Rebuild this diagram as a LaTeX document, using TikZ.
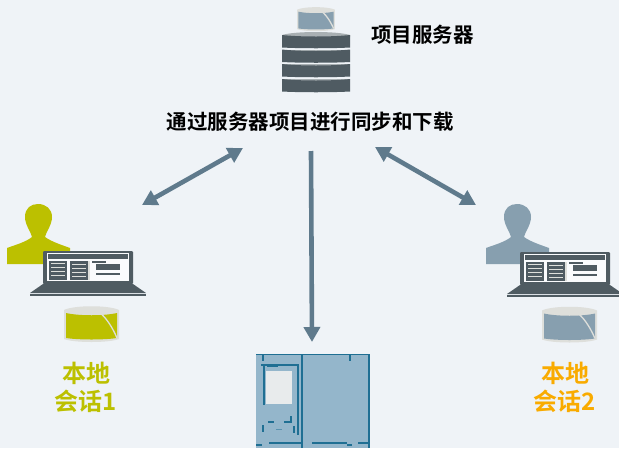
\documentclass[tikz,border=0pt]{standalone}
\usepackage{fontspec}
\setmainfont{Noto Sans CJK SC}[BoldFont={* Bold}]
\usetikzlibrary{arrows.meta}
\definecolor{bgc}{HTML}{EFF3F7}
\definecolor{arrowc}{HTML}{5F7A8C}
\definecolor{darkc}{HTML}{4F5B62}
\definecolor{greyc}{HTML}{A9B0B3}
\definecolor{rimc}{HTML}{DEDFDB}
\definecolor{steelc}{HTML}{879FAF}
\definecolor{limec}{HTML}{BCC000}
\definecolor{orangec}{HTML}{F9AB00}
\definecolor{plcc}{HTML}{94B6CB}
\definecolor{plcl}{HTML}{1F6F93}
\tikzset{
  x=1pt,y=-1pt,
  link/.style={draw=arrowc,line width=4.6pt,-{Triangle[length=15pt,width=16pt]}},
  biglink/.style={draw=arrowc,line width=4.6pt,{Triangle[length=15pt,width=16pt]}-{Triangle[length=15pt,width=16pt]}},
  head/.style={font=\bfseries\fontsize{20.5}{24}\selectfont,inner sep=0pt,text=black},
  sess/.style={font=\bfseries\fontsize{24}{29}\selectfont,inner sep=0pt,align=center},
  plcline/.style={draw=plcl,line width=1.8pt},
}
\newcommand{\mydb}[1]{% drawn in a 55x36 box
  \fill[rimc] (0,4) -- (0,33) .. controls (10,37) and (45,37) .. (55,33) -- (55,4) .. controls (45,-1) and (10,-1) .. (0,4) -- cycle;
  \fill[#1] (2,7) .. controls (15,10) and (40,10) .. (53,7) -- (53,32) .. controls (40,34) and (15,34) .. (2,32) -- cycle;
  \draw[rimc,line width=1.3pt] (28,2) .. controls (38,6) and (46,16) .. (53,32);
}
\newcommand{\myperson}[1]{%
  \fill[#1] (7,264) -- (7,248) .. controls (15,245) and (26,242) .. (32,237)
    .. controls (31,232) and (25,225) .. (25,217) .. controls (25,208) and (31,204) .. (38,204)
    .. controls (46,204) and (52,209) .. (52,217) .. controls (52,225) and (46,232) .. (45,237)
    .. controls (52,242) and (62,245) .. (70,248) -- (70,264) -- cycle;
}
\newcommand{\mylaptop}{%
  \fill[darkc,rounded corners=1pt] (43,251) rectangle (133,284);
  \fill[bgc!30!white] (47,253) rectangle (129,281);
  \fill[darkc] (48,254) rectangle (128,259);
  \fill[darkc] (49,261) rectangle (67,280);
  \fill[darkc] (70,261) rectangle (88,280);
  \fill[rimc] (88,261) rectangle (90,280);
  \foreach \yy in {263,267,271,275}{\fill[rimc] (51,\yy) rectangle (65,\yy+1.4);\fill[rimc] (72,\yy+0.5) rectangle (86,\yy+1.9);}
  \fill[darkc] (92,261) rectangle (106,263);
  \fill[darkc] (96,264) rectangle (120,270);
  \fill[darkc] (96,273) rectangle (120,275);
  \fill[darkc] (43,284) -- (133,284) -- (146,293) -- (30,293) -- cycle;
  \fill[darkc] (30,294) rectangle (146,296);
}
\begin{document}
\begin{tikzpicture}
\useasboundingbox (0,0) rectangle (619,448);
\fill[bgc] (0,0) rectangle (619,448);
% server
\begin{scope}[shift={(297,7)},yscale=0.67,xscale=0.69]\mydb{steelc}\end{scope}
\fill[greyc] (282,35) .. controls (295,31) and (337,31) .. (350,35) -- (350,37) -- (282,37) -- cycle;
\foreach \yy in {35,49.5,64,79}{
  \fill[greyc] (282,\yy) rectangle (350,\yy+3);
  \fill[darkc] (282,\yy) .. controls (300,\yy+2) and (332,\yy+2) .. (350,\yy) -- (350,\yy+12.5) .. controls (332,\yy+13.5) and (300,\yy+13.5) .. (282,\yy+12.5) -- cycle;
}
\node[head] (srv) at (422.5,35) {项目服务器};
\node[head] (sync) at (310,122) {通过服务器项目进行同步和下载};
% left client
\myperson{limec}
\mylaptop
\begin{scope}[shift={(64,306)}]\mydb{limec}\end{scope}
\node[sess,text=limec] (s1) at (86,387) {本地\\[-1pt]会话1};
% right client
\begin{scope}[shift={(479,0)}]\myperson{steelc}\end{scope}
\begin{scope}[shift={(477,1)}]\mylaptop\end{scope}
\begin{scope}[shift={(542,306.5)}]\mydb{steelc}\end{scope}
\node[sess,text=orangec] (s2) at (565,387) {本地\\[-1pt]会话2};
% PLC
\fill[plcc] (256,354) rectangle (370,448);
\draw[plcline] (256,354.5) -- (370,354.5);
\draw[plcline] (369,354) -- (369,448);
\draw[plcline,line width=2.2pt] (302,354) -- (302,448);
\fill[rimc!40!bgc] (266,371) rectangle (292,404);
\draw[plcline] (261,365) -- (298,365) -- (298,435);
\draw[plcline] (264,365) -- (264,405);
\draw[plcline] (263,354) -- (263,361);
\draw[plcline] (350,354) -- (350,361);
\draw[plcline,line width=2.2pt] (267,366) -- (278,366);
\draw[plcline] (268,422) -- (274,422);
\draw[plcline] (284,422) -- (291,422) -- (291,416);
\draw[plcline] (263,425) -- (263,432);
\draw[plcline] (294,426) -- (294,433);
\draw[plcline,draw=plcl!50!plcc] (276,429.5) -- (282,429.5);
\draw[plcline] (269,443) -- (301,443);
\draw[plcline] (312,443) -- (347,443);
\draw[plcline] (358,443) -- (369,443);
\draw[plcline] (256,445) -- (262,445);
\draw[plcline] (347,445) -- (352,445);
\coordinate (plctop) at (312,342);
% connectors
\coordinate (a1) at (142,205);
\coordinate (a2) at (243,148);
\coordinate (b1) at (375,147);
\coordinate (b2) at (476,205);
\coordinate (c1) at (311,151);
\draw[biglink] (a1) -- (a2);
\draw[biglink] (b1) -- (b2);
\draw[link] (c1) -- (plctop);
\end{tikzpicture}
\end{document}
